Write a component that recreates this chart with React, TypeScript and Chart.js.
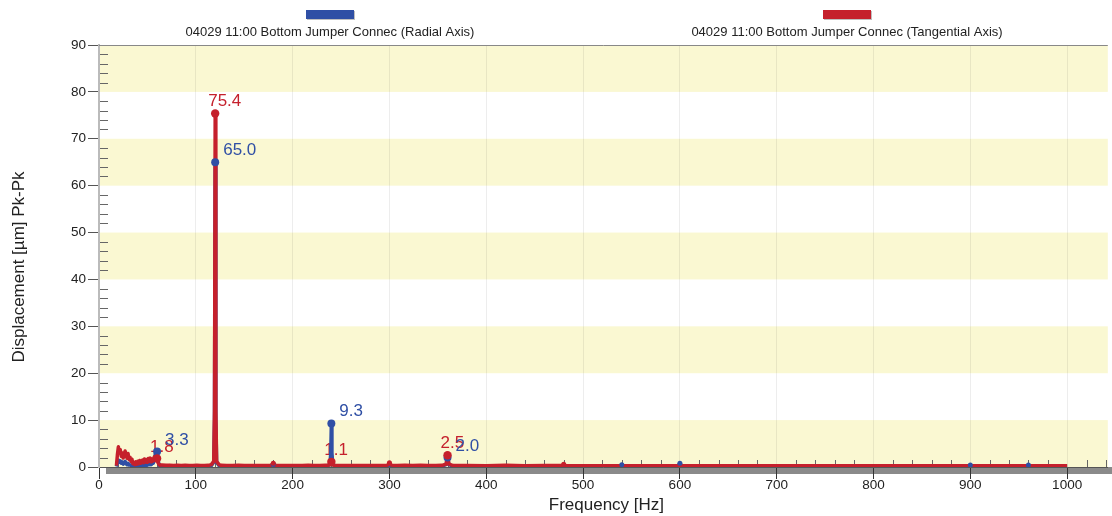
import React, { useEffect, useRef } from 'react';
import { Chart, registerables } from 'chart.js';

Chart.register(...registerables);

const seriesNames = [
  '04029 11:00 Bottom Jumper Connec (Radial Axis)',
  '04029 11:00 Bottom Jumper Connec (Tangential Axis)',
];
const xTitle = 'Frequency [Hz]';
const yTitle = 'Displacement [µm] Pk-Pk';

const freqHz = [
  18, 19, 20, 21, 22, 23, 24, 25, 26, 27,
  28, 29, 30, 31, 32, 33, 34, 35, 36, 37,
  38, 39, 40, 41, 42, 43, 44, 45, 46, 47,
  48, 49, 50, 51, 52, 53, 54, 55, 56, 57,
  58, 59, 60, 61, 62, 63,
  65, 69, 73, 77, 81, 85, 89, 93, 97, 101, 105, 109, 113, 116, 118.5, 119.3, 120, 120.7, 121.5, 124,
  126, 132, 138, 144, 150, 156, 162, 168, 174, 178, 180, 182, 186, 192, 198, 204, 210, 216, 222, 228, 234, 238.5, 239.4, 240, 240.6, 241.5,
  246, 252, 258, 264, 270, 276, 282, 288, 294, 298, 300, 302, 308, 316, 324, 332, 340, 348, 354, 358.5, 360, 361.5, 366,
  380, 400, 420, 440, 460, 478, 480, 482, 500, 520, 538, 540, 542, 560, 580, 598, 600, 602,
  620, 640, 660, 680, 700, 720, 740, 760, 780, 800, 820, 840, 860, 880,
  898, 900, 902, 920, 940, 958, 960, 962, 980, 1000,
];

const radialUm = [
  0.1, 0.9, 1.5, 1.0, 1.3, 0.8, 1.1, 0.6, 0.9, 1.2,
  0.7, 0.5, 0.8, 0.4, 0.5, 0.3, 0.4, 0.2, 0.3, 0.2,
  0.3, 0.2, 0.3, 0.2, 0.4, 0.2, 0.3, 0.4, 0.3, 0.5,
  0.3, 0.6, 0.4, 0.7, 0.5, 0.8, 0.5, 0.9, 0.8, 1.6,
  2.6, 3.1, 3.3, 1.6, 0.4, 0.2,
  0.2, 0.15, 0.2, 0.15, 0.15, 0.2, 0.15, 0.15, 0.15, 0.2, 0.15, 0.15, 0.2, 0.3, 1.0, 10, 65.0, 10, 1.0, 0.3,
  0.2, 0.15, 0.15, 0.2, 0.15, 0.15, 0.15, 0.15, 0.2, 0.3, 0.6, 0.3, 0.15, 0.15, 0.15, 0.15, 0.15, 0.15, 0.15, 0.15, 0.2, 0.5, 3.0, 9.3, 3.0, 0.5,
  0.15, 0.15, 0.15, 0.15, 0.15, 0.15, 0.15, 0.15, 0.15, 0.2, 0.4, 0.2, 0.15, 0.15, 0.15, 0.15, 0.15, 0.15, 0.2, 0.5, 2.0, 0.5, 0.15,
  0.15, 0.15, 0.15, 0.15, 0.15, 0.15, 0.2, 0.15, 0.15, 0.15, 0.2, 0.5, 0.2, 0.15, 0.15, 0.2, 0.8, 0.2,
  0.15, 0.15, 0.15, 0.15, 0.15, 0.15, 0.15, 0.15, 0.15, 0.15, 0.15, 0.15, 0.15, 0.15,
  0.15, 0.4, 0.15, 0.15, 0.15, 0.15, 0.4, 0.15, 0.15, 0.15,
];

const tangentialUm = [
  0.3, 2.6, 4.3, 3.0, 3.7, 2.3, 3.0, 1.9, 2.6, 3.4,
  2.5, 1.9, 2.9, 1.6, 2.1, 1.2, 1.7, 0.7, 1.0, 0.5,
  1.1, 0.6, 1.2, 0.7, 1.4, 0.8, 1.1, 1.5, 0.9, 1.7,
  1.1, 1.6, 1.0, 1.8, 1.2, 1.9, 1.1, 1.7, 1.3, 2.1,
  1.5, 1.7, 1.8, 0.9, 0.5, 0.4,
  0.45, 0.35, 0.4, 0.3, 0.35, 0.3, 0.35, 0.3, 0.3, 0.35, 0.3, 0.3, 0.35, 0.5, 1.2, 12, 75.4, 12, 1.2, 0.5,
  0.35, 0.3, 0.3, 0.35, 0.3, 0.3, 0.3, 0.3, 0.3, 0.4, 0.8, 0.4, 0.3, 0.3, 0.3, 0.3, 0.3, 0.35, 0.3, 0.3, 0.35, 0.4, 0.7, 1.1, 0.7, 0.4,
  0.3, 0.3, 0.3, 0.3, 0.3, 0.3, 0.3, 0.3, 0.3, 0.4, 0.9, 0.4, 0.3, 0.35, 0.3, 0.35, 0.3, 0.3, 0.35, 0.6, 2.5, 0.6, 0.3,
  0.3, 0.25, 0.35, 0.25, 0.3, 0.3, 0.6, 0.3, 0.25, 0.25, 0.25, 0.3, 0.25, 0.25, 0.25, 0.25, 0.3, 0.25,
  0.25, 0.25, 0.25, 0.25, 0.25, 0.25, 0.25, 0.25, 0.25, 0.25, 0.25, 0.25, 0.25, 0.25,
  0.25, 0.25, 0.25, 0.25, 0.25, 0.25, 0.25, 0.25, 0.25, 0.25,
];

const radialPeakHz = [60, 120, 240, 360];
const tangentialPeakHz = [60, 120, 240, 360];
const radialMinorHz = [180, 540, 600, 900, 960];
const tangentialMinorHz = [180, 300, 480];

const xTicks = [0, 100, 200, 300, 400, 500, 600, 700, 800, 900, 1000];
const yTicks = [0, 10, 20, 30, 40, 50, 60, 70, 80, 90];

const BLUE = '#2f4fa5';
const RED = '#c5202c';
const FONT = '"Liberation Sans", Arial, Helvetica, sans-serif';

function toPoints(values: number[]) {
  return freqHz.map((f, i) => ({ x: f, y: values[i] }));
}
function markers(values: number[], peaks: number[], minors: number[]) {
  const out: any[] = [];
  peaks.forEach((f) => out.push({ x: f, y: values[freqHz.indexOf(f)], minor: false }));
  minors.forEach((f) => out.push({ x: f, y: values[freqHz.indexOf(f)], minor: true }));
  return out;
}

const decorPlugin = {
  id: 'decor',
  beforeDraw(chart: any) {
    const { ctx, chartArea: a, scales } = chart;
    const y = scales.y;
    ctx.save();
    ctx.fillStyle = '#faf8d2';
    for (let i = 0; i < yTicks.length - 1; i += 2) {
      const top = y.getPixelForValue(yTicks[i + 1]);
      const bot = y.getPixelForValue(yTicks[i]);
      ctx.fillRect(a.left, top, a.right - a.left, bot - top);
    }
    ctx.fillStyle = '#8a8a8a';
    ctx.fillRect(a.left + 7, a.bottom, chart.width - a.left - 7, 7);
    ctx.restore();
  },
  beforeDatasetsDraw(chart: any) {
    const { ctx, chartArea: a, scales } = chart;
    const x = scales.x;
    const y = scales.y;
    ctx.save();
    ctx.lineWidth = 1;
    ctx.strokeStyle = '#666';
    ctx.beginPath();
    for (let f = 20; f <= x.max; f += 20) {
      if (f % 100 === 0) continue;
      const px = Math.round(x.getPixelForValue(f)) + 0.5;
      ctx.moveTo(px, a.bottom);
      ctx.lineTo(px, a.bottom - 7);
    }
    for (let v = 2; v < y.max; v += 2) {
      if (v % 10 === 0) continue;
      const py = Math.round(y.getPixelForValue(v)) + 0.5;
      ctx.moveTo(a.left + 1, py);
      ctx.lineTo(a.left + 9, py);
    }
    ctx.stroke();
    ctx.strokeStyle = '#888';
    ctx.beginPath();
    ctx.moveTo(a.left, Math.round(a.top) + 0.5);
    ctx.lineTo(a.right, Math.round(a.top) + 0.5);
    ctx.stroke();

    // peak value labels
    ctx.font = `17px ${FONT}`;
    ctx.textAlign = 'left';
    ctx.textBaseline = 'alphabetic';
    [3, 2].forEach((di) => {
      const ds: any = chart.data.datasets[di];
      const meta = chart.getDatasetMeta(di);
      ctx.fillStyle = ds.borderColor;
      meta.data.forEach((el: any, j: number) => {
        const raw = ds.data[j];
        if (raw.minor) return;
        ctx.fillText(raw.y.toFixed(1), el.x + ds.labelDx, el.y - 7);
      });
    });
    ctx.restore();
  },
  afterDraw(chart: any) {
    const { ctx, chartArea: a } = chart;
    const centers = [330, 847];
    ctx.save();
    [0, 1].forEach((di) => {
      const ds: any = chart.data.datasets[di];
      const cx = centers[di];
      ctx.fillStyle = 'rgba(0,0,0,0.25)';
      ctx.fillRect(cx - 24 + 1, 10 + 1, 48, 9);
      ctx.fillStyle = ds.borderColor;
      ctx.fillRect(cx - 24, 10, 48, 9);
      ctx.font = `13px ${FONT}`;
      ctx.fillStyle = '#222';
      ctx.textAlign = 'center';
      ctx.textBaseline = 'alphabetic';
      ctx.fillText(ds.label, cx, 36);
    });
    // axis titles
    ctx.font = `17px ${FONT}`;
    ctx.fillStyle = '#222';
    ctx.textAlign = 'center';
    ctx.textBaseline = 'middle';
    ctx.fillText(xTitle, (a.left + a.right) / 2 + 3, 505.5);
    ctx.translate(19.5, (a.top + a.bottom) / 2 + 11);
    ctx.rotate(-Math.PI / 2);
    ctx.fillText(yTitle, 0, 0);
    ctx.restore();
  },
};

export default function App() {
  const ref = useRef<HTMLCanvasElement | null>(null);
  useEffect(() => {
    if (!ref.current) return;
    Chart.defaults.font.family = FONT;
    Chart.defaults.color = '#222';
    const chart = new Chart(ref.current, {
      type: 'line',
      data: {
        datasets: [
          {
            label: seriesNames[0],
            data: toPoints(radialUm),
            borderColor: BLUE,
            backgroundColor: BLUE,
            borderWidth: 3.5,
            pointRadius: 0,
            tension: 0,
            borderJoinStyle: 'round',
            order: 3,
          },
          {
            label: seriesNames[1],
            data: toPoints(tangentialUm),
            borderColor: RED,
            backgroundColor: RED,
            borderWidth: 3.5,
            pointRadius: 0,
            tension: 0,
            borderJoinStyle: 'round',
            order: 2,
          },
          {
            label: seriesNames[0] + ' peaks',
            data: markers(radialUm, radialPeakHz, radialMinorHz),
            borderColor: BLUE,
            backgroundColor: BLUE,
            showLine: false,
            pointRadius: (c: any) => (c.raw && c.raw.minor ? 2.5 : 4),
            pointBorderWidth: 0,
            labelDx: 8,
            order: 1,
          } as any,
          {
            label: seriesNames[1] + ' peaks',
            data: markers(tangentialUm, tangentialPeakHz, tangentialMinorHz),
            borderColor: RED,
            backgroundColor: RED,
            showLine: false,
            pointRadius: (c: any) => (c.raw && c.raw.minor ? 2.5 : 4.2),
            pointBorderWidth: 0,
            labelDx: -7,
            order: 0,
          } as any,
        ],
      },
      options: {
        animation: false,
        responsive: false,
        maintainAspectRatio: false,
        layout: { padding: { top: 45, right: 0, left: 0, bottom: 0 } },
        plugins: { legend: { display: false }, tooltip: { enabled: false } },
        events: [],
        scales: {
          x: {
            type: 'linear',
            min: 0,
            max: 1042,
            afterBuildTicks: (s: any) => {
              s.ticks = xTicks.map((v) => ({ value: v }));
            },
            afterFit: (s: any) => {
              s.height = 49;
              s.paddingLeft = 0;
              s.paddingRight = 0;
            },
            ticks: {
              font: { size: 13.5 },
              color: '#222',
              padding: -2,
              maxRotation: 0,
              autoSkip: false,
              callback: (v: any) => String(v),
            },
            grid: { color: 'rgba(0,0,0,0.07)', tickColor: '#333', tickLength: 12 },
            border: { display: true, color: '#555', width: 1 },
            title: { display: false },
          },
          y: {
            type: 'linear',
            min: 0,
            max: 90,
            afterBuildTicks: (s: any) => {
              s.ticks = yTicks.map((v) => ({ value: v }));
            },
            afterFit: (s: any) => {
              s.width = 99;
              s.paddingTop = 0;
              s.paddingBottom = 0;
            },
            ticks: { font: { size: 13.5 }, color: '#222', padding: 2, callback: (v: any) => String(v) },
            grid: { drawOnChartArea: false, tickColor: '#555', tickLength: 11 },
            border: { display: true, color: '#bbbbbb', width: 2 },
            title: { display: false },
          },
        },
      },
      plugins: [decorPlugin],
    } as any);
    return () => chart.destroy();
  }, []);
  return (
    <div style={{ position: 'absolute', left: 0, top: 0, width: 1112, height: 516 }}>
      <canvas ref={ref} width={1112} height={516} style={{ width: 1112, height: 516, display: 'block' }} />
    </div>
  );
}
